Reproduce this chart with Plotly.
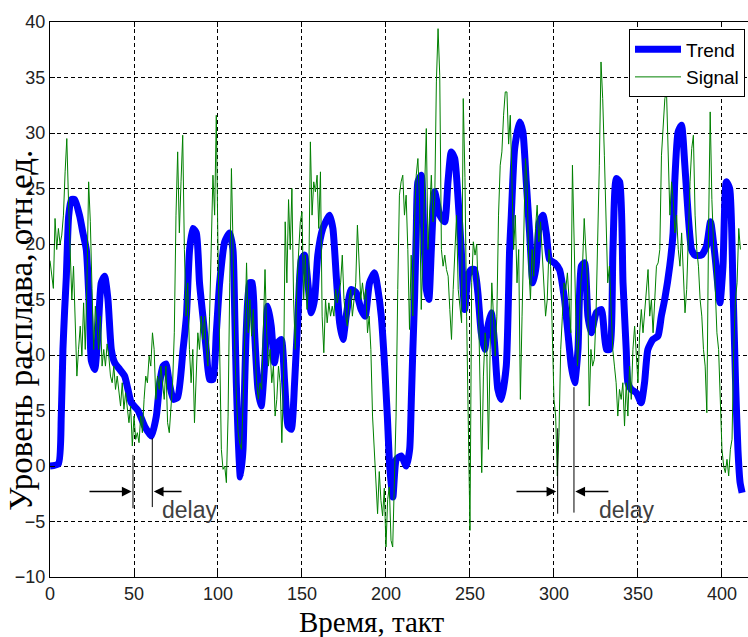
import plotly.graph_objects as go

# ---- Trend (thick blue) ----
trend_x = [0, 5, 6.7, 7.7, 8.7, 9.7, 11.1, 12.7, 14.7, 17.7, 19.6, 21.6, 23.6, 24.6, 26.6, 28.6, 30.5, 32.5,
           34.5, 36.5, 38.5, 41.5, 44.4, 46.4, 48.4, 52.4, 56.3, 60.3, 63.3, 65.3, 67.3, 69, 71, 73.5, 76,
           79.2, 81.2, 83.1, 85.1, 87.1, 89, 91, 93, 95, 97, 99, 101, 104, 106.9, 108.9, 110, 110.9, 111.9,
           113.3, 114.9, 115.9, 116.8, 118.8, 120.4, 121.8, 123.8, 125.7, 127.7, 129.7, 131.7, 133.6, 135.6,
           137.7, 139.7, 141.7, 143.6, 145.6, 147.6, 149.6, 151.5, 153.5, 155.5, 157.5, 159.4, 162.4, 166.4,
           168.4, 170.4, 172.4, 174.4, 176.3, 179.3, 182.3, 185.2, 187.6, 190.2, 193.2, 195.2, 197.2, 199.2,
           200.8, 202.2, 204.1, 206.2, 209.1, 212.1, 214.1, 215.1, 216, 217, 218, 219, 221, 222.4, 224, 225.5,
           227, 229, 232, 234.9, 236.9, 238.9, 240.9, 242.9, 244.8, 246.8, 248.8, 250.8, 252.7, 254.7, 256.7,
           258.7, 260.7, 262.7, 264.6, 266.6, 268.6, 271.6, 273.6, 274.6, 276.6, 279.6, 281.5, 283.5, 285.5,
           287.5, 289.4, 291.4, 293.4, 295.4, 297.4, 300.3, 303.3, 306.3, 308.3, 310.3, 312.3, 314.3, 316.3,
           318.2, 320.2, 322.2, 325.2, 328.2, 331.2, 333.1, 335.1, 337.1, 339.1, 341.1, 343, 344, 346, 349,
           351.9, 353.9, 355.9, 358.9, 361.9, 363.9, 365.9, 368.9, 370.9, 371.9, 373.9, 375.9, 377.9, 379.9,
           381.9, 383.9, 387.9, 390.8, 393.2, 395.8, 398.8, 400.6, 402.6, 404.6, 406.5, 408.1, 409.5, 410.8, 412]
trend_y = [0, 0.2, 4.5, 10.5, 14, 17, 22.5, 24, 24, 22.5, 21, 19.5, 13.5, 9.5, 8.7, 12, 16.5, 17.1,
           15, 10.5, 9.3, 8.7, 8.1, 6.9, 5.7, 5, 3.6, 2.7, 4.5, 7.5, 9, 9.2, 7.5, 6, 6.2,
           10.5, 13.5, 19.5, 21.4, 21, 16.5, 13.5, 10.5, 7.8, 7.8, 12, 16.5, 20.2, 21, 19.5, 13.5, 7.5, 3,
           -1, 1.5, 7.5, 12, 16.5, 16.5, 12, 6.9, 5.4, 9, 14.4, 12.6, 9.3, 11.1,
           11.4, 7.5, 3.6, 3.3, 7.5, 13.5, 18.6, 19, 16.5, 13.8, 15, 19, 21.4, 22.6,
           21.4, 17.1, 12.9, 11.4, 13.5, 15.9, 15.6, 14.1, 13.5, 16.5, 17.4, 15.9, 13.5, 9,
           4.5, 0, -2.8, 0.6, 0.9, 0, 1.5, 6, 10.5, 15, 21, 25.6, 26.2, 21.4, 15.9, 15,
           19.5, 24.7, 22.6, 22, 25.6, 28.3, 27.7, 24.1, 19.5, 14.1, 17.1, 17.7, 17.7, 15.6, 12,
           10.5, 12.6, 13.8, 11.1, 6.9, 6, 9, 19.5, 22.6, 28.6, 31, 30.1, 25.6, 21,
           16.5, 18, 22, 22.6, 21, 18.6, 18.3, 17.7, 15, 12, 9, 7.5, 10.5, 18,
           18.3, 13.5, 12, 13.8, 14.1, 10.5, 10.5, 19.5, 25.9, 25.6, 16.5, 10.5, 7.5, 6.9, 6.6,
           5.7, 7.5, 10.5, 11.4, 11.7, 13.5, 15, 18, 21, 25.6, 30.1, 30.7, 27.1, 22.6,
           19.5, 19, 19, 19.8, 22, 19, 14.7, 18, 25.6, 25, 16.5, 7.5, 1.5, -1.5, -2.4]

# ---- Signal (thin green), one value per time step ----
signal_x = list(range(0, 412))
signal_y = [18.5, 17, 16, 22.3, 19.5, 21.4, 20, 20.8, 22.6, 26.5,
            29.5, 24, 19, 15, 18, 13.5, 8.1, 10.5, 12.6, 9.9,
            14.7, 10.5, 16.5, 25.6, 22, 16, 10.5, 14.4, 12, 10.5,
            13.5, 9, 10.5, 9, 11, 9.9, 8.1, 7.5, 9, 6.9,
            8.1, 6.5, 5.4, 7.5, 5.1, 6.6, 5, 3.9, 5.4, 1.8,
            4.5, 2.4, 3, 2.1, 4.5, 3, 6, 8.1, 7.5, 9.9,
            9, 12, 10.5, 6, 8.1, 6.9, 9, 7.5, 6, 9,
            3.9, 3, 5.1, 7.5, 12, 22.6, 28.3, 21, 25.6, 29.8,
            19.5, 13.5, 16.5, 10.5, 7.5, 10.5, 3.9, 9, 12, 10.5,
            13.5, 11.4, 13.5, 10.5, 9, 13.5, 19.5, 26.2, 22.6, 31.6,
            19.5, 10.5, 1.5, -0.3, 0, -1.5, 4.5, 16.5, 26.8, 19.5,
            10.5, 6, 3, 2, 1.5, 6, 13.5, 18.3, 12, 15,
            11.7, 14.1, 10.5, 7.5, 6, 7.5, 6.9, 12, 17.7, 12,
            9, 10.5, 7.5, 9, 4.5, 6, 9, 7.5, 2.1, 7.5,
            22, 16.5, 24, 19.5, 25, 15, 10.5, 16.5, 19.5, 22,
            22.9, 15, 19, 14.1, 16.5, 29.2, 22.6, 25.6, 24.7, 26.2,
            21.4, 26.5, 13.5, 10.2, 15, 12.9, 14.7, 13.5, 14.4, 13.5,
            15.9, 14.7, 15.6, 16.5, 19, 15, 13.5, 12.6, 15, 15.9,
            13.5, 15, 16.5, 21.7, 18, 15, 16.5, 15, 15.9, 12,
            13.5, 10.5, 4.5, 1.1, -1.5, -4.3, -0.5, -3.1, -4.5, -2,
            -7.3, -3, -1.9, -6.7, -7.3, -1.3, 4.5, 15.9, 24.4, 25.6,
            26.2, 22.6, 24.4, 19.5, 12.3, 19, 13.5, 22, 26.2, 27.7,
            23.8, 14.1, 20.2, 26.2, 30.4, 19.5, 22.6, 26.2, 22, 23.8,
            34.6, 39.4, 35.2, 19.5, 18, 19, 17.7, 17.1, 14.1, 11.4,
            15.9, 19.5, 22.6, 15.9, 14.1, 12.9, 33.1, 26, 13.5, 3,
            -5.8, 16.5, 20.2, 19, 20, 15, 6, -0.6, 8.1, 12,
            10.5, 1.5, 10.5, 16.5, 13.5, 9.9, 13.5, 22.6, 27.1, 28.3,
            31.6, 33.7, 33.7, 29, 31.6, 24.7, 19.5, 22.6, 16.5, 19.5,
            6, 13.5, 21, 27.7, 25.6, 18, 15, 19.5, 17.1, 21.4,
            23.5, 20.2, 22, 19.5, 16.5, 13.5, 15, 19.5, 18, 12.3,
            6, 4.5, -0.9, 3, 10.5, 13.5, 16.5, 15.9, 17.4, 15,
            12, 27.1, 19.5, 13.5, 9, 12, 16.5, 18, 22.3, 19.5,
            16.5, 5.4, 10.5, 9, 9.6, 13.5, 19.5, 27.1, 36.4, 33.1,
            28, 21, 16.5, 18, 13.5, 10.5, 9, 7.5, 4.5, 6.9,
            6, 7.5, 3.6, 7.5, 4.5, 9, 6, 10.5, 12.6, 10.5,
            7.5, 12, 14.1, 12, 14.1, 15.9, 17.7, 13.5, 15, 12,
            15, 18, 18.3, 19.5, 28, 30.4, 33.1, 33.7, 27.1, 22.6,
            25.6, 24, 21, 22.6, 19.5, 18, 21, 16.5, 13.8, 15.9,
            21, 25.6, 28.6, 29.8, 22.6, 19.5, 18, 15, 13.5, 10.5,
            9, 4.8, 21, 31.9, 24, 19.5, 15, 12, 10.5, 5.7,
            1.5, 0, -0.6, 0.6, -0.9, 1.5, 2.4, 10.5, 15, 16.5,
            21.4, 19.5]

x_ticks = [0, 50, 100, 150, 200, 250, 300, 350, 400]
y_ticks = [-10, -5, 0, 5, 10, 15, 20, 25, 30, 35, 40]

fig = go.Figure()
fig.add_trace(go.Scatter(x=trend_x, y=trend_y, mode="lines", name="Trend",
                         line=dict(color="#0000FF", width=7, shape="spline", smoothing=0.55)))
fig.add_trace(go.Scatter(x=signal_x, y=signal_y, mode="lines", name="Signal",
                         line=dict(color="#008000", width=1)))

tickfont = dict(family="Arial, Liberation Sans, sans-serif", size=18, color="#222222")
fig.update_xaxes(range=[0, 415.5], tickvals=x_ticks, showgrid=True, gridcolor="black",
                 griddash="4px,3px", gridwidth=1, zeroline=False, showline=True,
                 linecolor="black", linewidth=1, mirror="ticks", ticks="inside",
                 ticklen=5, tickcolor="black", tickfont=tickfont)
fig.update_yaxes(range=[-10, 40], tickvals=y_ticks, showgrid=True, gridcolor="black",
                 griddash="4px,3px", gridwidth=1, zeroline=False, showline=True,
                 linecolor="black", linewidth=1, mirror=False, ticks="inside",
                 ticklen=5, tickcolor="black", tickfont=tickfont)

# delay markers
shapes = []
for (xv, y0, y1) in [(49.4, 1.0, -3.8), (60.9, 2.5, -3.7), (302.2, 3.4, -4.3), (311.9, 7.1, -4.2)]:
    shapes.append(dict(type="line", xref="x", yref="y", x0=xv, x1=xv, y0=y0, y1=y1,
                       line=dict(color="black", width=1)))

annotations = []
for (hx, tx) in [(48.6, 22.6), (61.8, 79.2), (301.4, 276.8), (312.7, 333.3)]:
    annotations.append(dict(x=hx, y=-2.3, ax=tx, ay=-2.3, xref="x", yref="y", axref="x", ayref="y",
                            showarrow=True, arrowhead=2, arrowsize=1.3, arrowwidth=1.5,
                            arrowcolor="black", text=""))
for xv in [83.3, 342.9]:
    annotations.append(dict(x=xv, y=-4.0, xref="x", yref="y", text="delay", showarrow=False,
                            font=dict(family="Arial, Liberation Sans, sans-serif", size=23,
                                      color="#404040")))
annotations.append(dict(x=0.461, y=-0.0816, xref="paper", yref="paper", text="Время, такт",
                        showarrow=False, yanchor="middle",
                        font=dict(family="Liberation Serif, Times New Roman, serif", size=29,
                                  color="black")))
annotations.append(dict(x=-0.041, y=0.4445, xref="paper", yref="paper",
                        text="Уровень расплава, отн.ед.", textangle=-90, showarrow=False,
                        xanchor="center", yanchor="middle",
                        font=dict(family="Liberation Serif, Times New Roman, serif", size=33,
                                  color="black")))

fig.update_layout(width=748, height=637, margin=dict(l=50, r=0, t=22, b=60),
                  plot_bgcolor="white", paper_bgcolor="white",
                  shapes=shapes, annotations=annotations,
                  legend=dict(x=0.9957, y=0.9868, xanchor="right", yanchor="top",
                              bordercolor="black", borderwidth=1, bgcolor="white",
                              font=dict(family="Arial, Liberation Sans, sans-serif", size=19,
                                        color="black"),
                              tracegroupgap=0, itemwidth=46))

fig.write_html("out.html", config={"displayModeBar": False},
               post_script="document.body.style.margin='0';document.body.style.overflow='hidden';")
